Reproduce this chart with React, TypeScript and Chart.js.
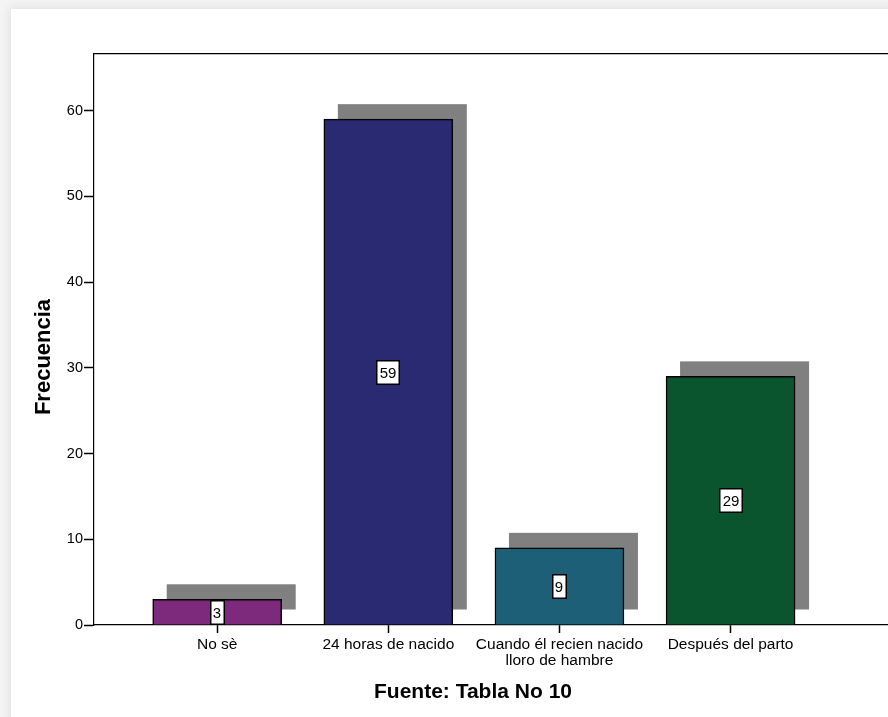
import React, { useEffect, useRef } from "react";
import { Chart, registerables } from "chart.js";

Chart.register(...registerables);

const categories: (string | string[])[] = [
  "No sè",
  "24 horas de nacido",
  ["Cuando él recien nacido", "lloro de hambre"],
  "Después del parto",
];
const frequencies = [3, 59, 9, 29];
const barColors = ["#7d2a7c", "#292a72", "#1e5f78", "#0b552e"];
const yTicks = [0, 10, 20, 30, 40, 50, 60];
const xTitle = "Fuente: Tabla No 10";
const yTitle = "Frecuencia";

const FONT = "Arial, 'Liberation Sans', sans-serif";

const shadowPlugin = {
  id: "shadowBars",
  beforeDatasetsDraw(chart: any) {
    const ctx = chart.ctx;
    const meta = chart.getDatasetMeta(0);
    ctx.save();
    ctx.fillStyle = "#808080";
    meta.data.forEach((el: any) => {
      const w = el.width;
      ctx.fillRect(el.x - w / 2 + 14, el.y - 15, w, el.base - el.y);
    });
    ctx.restore();
  },
  afterDatasetsDraw(chart: any) {
    const ctx = chart.ctx;
    const meta = chart.getDatasetMeta(0);
    ctx.save();
    ctx.font = `15px ${FONT}`;
    ctx.textAlign = "center";
    ctx.textBaseline = "middle";
    meta.data.forEach((el: any, i: number) => {
      const txt = String(frequencies[i]);
      const tw = ctx.measureText(txt).width;
      const cx = Math.round(el.x);
      const cy = Math.round((el.y + el.base) / 2);
      const bw = Math.round(tw + 7);
      const bh = 25;
      const x0 = cx - Math.floor(bw / 2);
      const y0 = Math.round(cy - bh / 2);
      ctx.fillStyle = "#ffffff";
      ctx.fillRect(x0, y0, bw, bh);
      ctx.strokeStyle = "#000000";
      ctx.lineWidth = 1.5;
      ctx.strokeRect(x0 + 0.75, y0 + 0.75, bw - 1.5, bh - 1.5);
      ctx.fillStyle = "#000000";
      ctx.fillText(txt, cx, y0 + bh / 2 + 1);
    });
    ctx.restore();
  },
  afterDraw(chart: any) {
    const ctx = chart.ctx;
    const a = chart.chartArea;
    ctx.save();
    ctx.fillStyle = "#000000";
    ctx.textAlign = "center";
    ctx.textBaseline = "middle";
    ctx.font = `bold 21px ${FONT}`;
    ctx.fillText(xTitle, a.left + 379, a.bottom + 67);
    ctx.font = `bold 22px ${FONT}`;
    ctx.translate(a.left - 50, a.top + 303);
    ctx.rotate(-Math.PI / 2);
    ctx.fillText(yTitle, 0, 0);
    ctx.restore();
  },
};

export default function App() {
  const canvasRef = useRef<HTMLCanvasElement>(null);

  useEffect(() => {
    document.body.style.margin = "0";
    document.body.style.background = "#f4f4f4";
    const canvas = canvasRef.current;
    if (!canvas) return;
    const chart = new Chart(canvas, {
      type: "bar",
      data: {
        datasets: [
          {
            data: frequencies.map((v, i) => ({ x: i, y: v })),
            backgroundColor: barColors,
            borderColor: "#000000",
            borderWidth: 1.5,
            barThickness: 129,
          } as any,
        ],
      },
      options: {
        responsive: false,
        animation: false,
        events: [],
        layout: { padding: 0 },
        plugins: {
          legend: { display: false },
          tooltip: { enabled: false },
        },
        scales: {
          x: {
            type: "linear",
            position: "bottom",
            offset: false,
            min: -0.72,
            max: 3.92,
            afterBuildTicks: (scale: any) => {
              scale.ticks = categories.map((_, i) => ({ value: i }));
            },
            afterFit: (scale: any) => {
              scale.height = 92;
            },
            ticks: {
              autoSkip: false,
              maxRotation: 0,
              padding: 4,
              color: "#000000",
              font: { family: FONT, size: 15.5, lineHeight: 1.0 },
              callback: (v: any) => categories[v as number] as any,
            },
            grid: {
              display: true,
              offset: false,
              drawOnChartArea: false,
              drawTicks: true,
              tickLength: 8,
              tickColor: "#000000",
              tickWidth: 1.5,
            },
            border: { display: true, color: "#000000", width: 1.2 },
          },
          x2: {
            type: "linear",
            position: "top",
            offset: false,
            min: 0,
            max: 1,
            afterFit: (scale: any) => {
              scale.height = 54;
            },
            ticks: { display: false },
            grid: { display: false },
            border: { display: true, color: "#000000", width: 1.2 },
          },
          y: {
            type: "linear",
            min: 0,
            max: 66.6,
            afterBuildTicks: (scale: any) => {
              scale.ticks = yTicks.map((v) => ({ value: v }));
            },
            afterFit: (scale: any) => {
              scale.width = 94;
            },
            ticks: {
              padding: 1,
              color: "#000000",
              font: { family: FONT, size: 14.5 },
            },
            grid: {
              display: true,
              drawOnChartArea: false,
              drawTicks: true,
              tickLength: 10,
              tickColor: "#000000",
              tickWidth: 1.5,
            },
            border: { display: true, color: "#000000", width: 1.2 },
          },
        },
      } as any,
      plugins: [shadowPlugin],
    });
    return () => chart.destroy();
  }, []);

  return (
    <div style={{ position: "relative", width: 888, height: 717, overflow: "hidden" }}>
      <div
        style={{
          position: "absolute",
          left: 11,
          top: 9,
          width: 1000,
          height: 800,
          background: "#ffffff",
          boxShadow: "0 0 9px 2px rgba(0,0,0,0.07)",
        }}
      />
      <canvas
        ref={canvasRef}
        width={888}
        height={717}
        style={{ position: "absolute", left: 0, top: 0, width: 888, height: 717 }}
      />
    </div>
  );
}
